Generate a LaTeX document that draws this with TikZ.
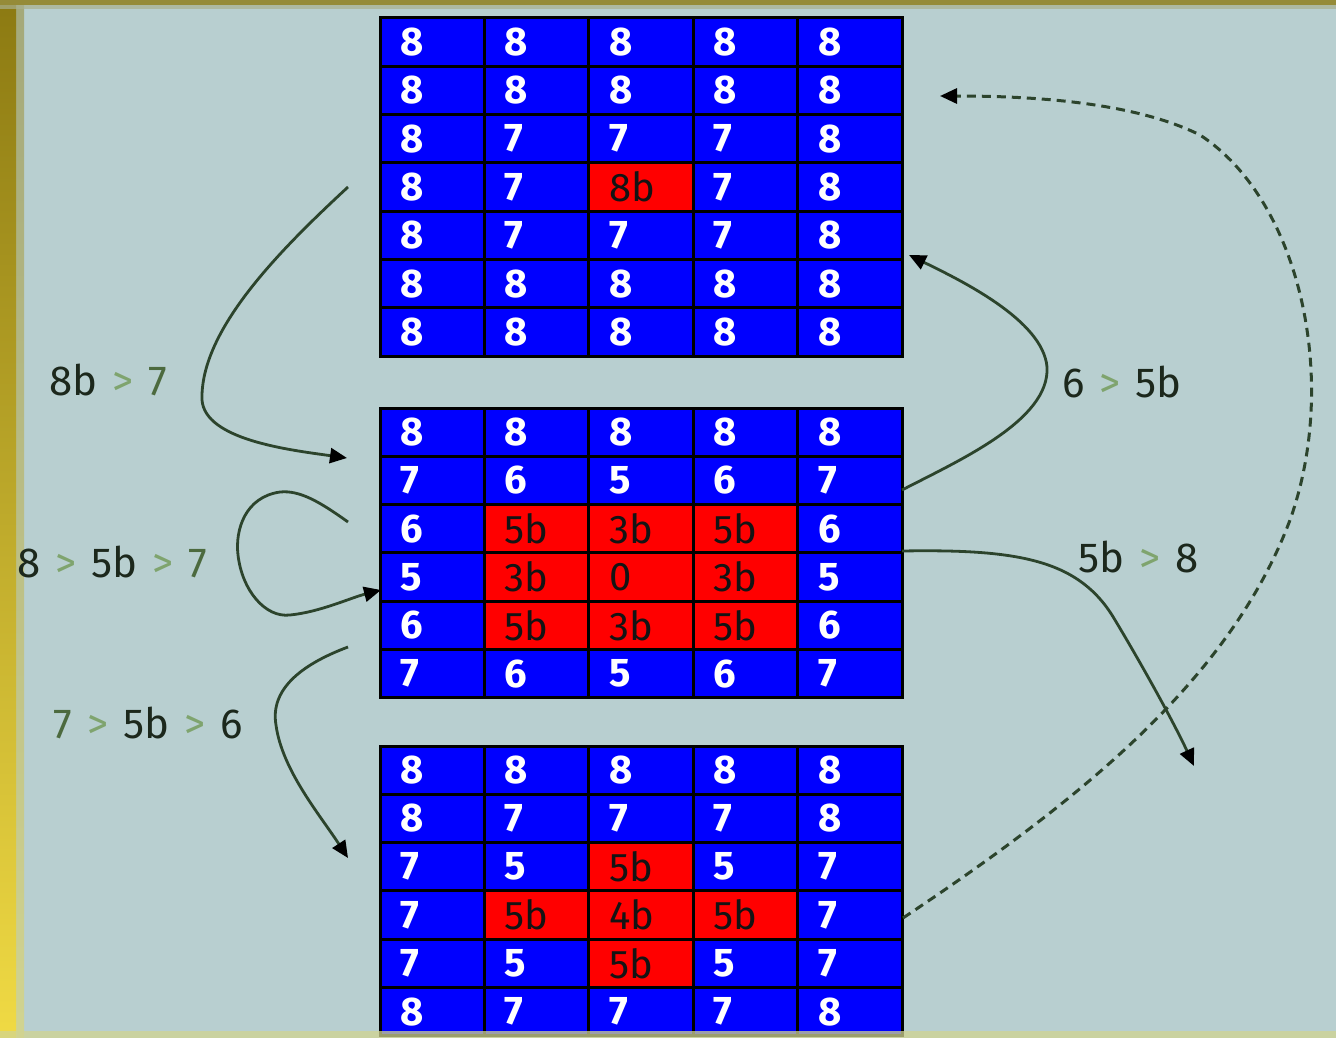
\documentclass[tikz,border=0pt]{standalone}
\usepackage{fontspec}
\setmainfont{Fira Sans}
\usetikzlibrary{arrows.meta}

\definecolor{bg}{HTML}{B8CFD0}
\definecolor{cw}{HTML}{0000FF}
\definecolor{ck}{HTML}{FF0000}
\definecolor{tw}{HTML}{FFFFFF}
\definecolor{tk}{HTML}{141414}
\definecolor{connc}{HTML}{2C442C}
\definecolor{gtc}{HTML}{7FA46E}
\definecolor{mgc}{HTML}{4C6A3E}
\definecolor{dkc}{HTML}{1C281C}
\definecolor{olive}{HTML}{8C7A12}
\definecolor{goldy}{HTML}{F0DA44}

\newcommand\cellfontw{\bfseries\fontsize{40}{46}\selectfont}
\newcommand\cellfontk{\fontsize{40}{46}\selectfont}
% the ">" between two states of a transition label
\newcommand\tgt{\hspace{15pt}\textcolor{gtc}{>}\hspace{15pt}}

% one 5-column table of cells: name, top edge, rows of value/kind
\newcommand\gridblock[3]{%
  \foreach \rowlist [count=\ri] in {#3} {
    \foreach \v/\f [count=\ci] in \rowlist {
      \node[cell=\f] (#1-\ri-\ci) at ({380+(\ci-0.5)*104.4},{#2+(\ri-0.5)*48.3}) {\v};
    }
  }}

\begin{document}
\begin{tikzpicture}[x=1pt,y=-1pt,
  cell/.style={draw=black, line width=3pt, fill=c#1, text=t#1,
    font=\csname cellfont#1\endcsname, minimum height=48.3pt,
    text width=63.4pt, inner xsep=20.5pt, inner ysep=0pt, align=left},
  lbl/.style={text=dkc, font=\fontsize{42}{48}\selectfont, inner sep=0pt},
  conn/.style={draw=connc, line width=2.8pt,
    -{Triangle[length=17pt,width=15pt,color=black]}},
  dconn/.style={conn, line width=3pt, dash pattern=on 9pt off 6pt}]
\useasboundingbox (0,0) rectangle (1336,1038);
\clip (0,0) rectangle (1336,1038);
\fill[bg] (0,0) rectangle (1336,1038);

% frame
\shade[top color=olive, bottom color=goldy] (0,0) rectangle (16,1038);
\shade[top color=olive, bottom color=goldy, opacity=0.45] (16,0) rectangle (24,1038);
\fill[olive!80!bg] (0,0) rectangle (1336,5);
\fill[olive!35!bg, opacity=0.7] (0,5) rectangle (1336,9);

% tables
\gridblock{top}{18}{
  {8/w,8/w,8/w,8/w,8/w},
  {8/w,8/w,8/w,8/w,8/w},
  {8/w,7/w,7/w,7/w,8/w},
  {8/w,7/w,8b/k,7/w,8/w},
  {8/w,7/w,7/w,7/w,8/w},
  {8/w,8/w,8/w,8/w,8/w},
  {8/w,8/w,8/w,8/w,8/w}}
\gridblock{mid}{408}{
  {8/w,8/w,8/w,8/w,8/w},
  {7/w,6/w,5/w,6/w,7/w},
  {6/w,5b/k,3b/k,5b/k,6/w},
  {5/w,3b/k,0/k,3b/k,5/w},
  {6/w,5b/k,3b/k,5b/k,6/w},
  {7/w,6/w,5/w,6/w,7/w}}
\gridblock{bot}{746}{
  {8/w,8/w,8/w,8/w,8/w},
  {8/w,7/w,7/w,7/w,8/w},
  {7/w,5/w,5b/k,5/w,7/w},
  {7/w,5b/k,4b/k,5b/k,7/w},
  {7/w,5/w,5b/k,5/w,7/w},
  {8/w,7/w,7/w,7/w,8/w}}
\fill[goldy!45!bg, opacity=0.75] (0,1031) rectangle (1336,1038);

% transition labels
\node[lbl] (l1) at (108,380) {8b\tgt\textcolor{mgc}{7}};
\node[lbl] (l2) at (112,562) {8\tgt 5b\tgt\textcolor{mgc}{7}};
\node[lbl] (l3) at (148,723) {\textcolor{mgc}{7}\tgt 5b\tgt 6};
\node[lbl] (l4) at (1122,382) {6\tgt 5b};
\node[lbl] (l5) at (1139,557) {5b\tgt 8};

% connector ends
\coordinate (a1s) at (348,187);  \coordinate (a1e) at (347,458);
\coordinate (a2s) at (348,522);  \coordinate (a2e) at (381,590);
\coordinate (a3s) at (348,647);  \coordinate (a3e) at (348,858);
\coordinate (a4s) at (902,490);  \coordinate (a4e) at (909,255);
\coordinate (a5s) at (902,551);  \coordinate (a5e) at (1194,766);
\coordinate (a6s) at (903,918);  \coordinate (a6e) at (940,96);

\draw[conn] (a1s) .. controls (280,250) and (200,330) .. (202,400)
  .. controls (205,440) and (290,450) .. (a1e);
\draw[conn] (a2s) .. controls (320,502) and (300,490) .. (280,492)
  .. controls (245,497) and (235,530) .. (238,555)
  .. controls (242,590) and (265,618) .. (290,615)
  .. controls (320,612) and (350,598) .. (a2e);
\draw[conn] (a3s) .. controls (300,665) and (270,690) .. (276,725)
  .. controls (282,770) and (320,815) .. (a3e);
\draw[conn] (a4s) .. controls (960,460) and (1050,420) .. (1047,367)
  .. controls (1043,320) and (960,280) .. (a4e);
\draw[conn] (a5s) .. controls (1020,549) and (1080,560) .. (1115,620)
  .. controls (1145,670) and (1175,725) .. (a5e);
\draw[dconn] (a6s) .. controls (1080,800) and (1230,680) .. (1290,520)
  .. controls (1340,380) and (1300,200) .. (1200,135)
  .. controls (1130,100) and (1020,96) .. (a6e);
\end{tikzpicture}
\end{document}
